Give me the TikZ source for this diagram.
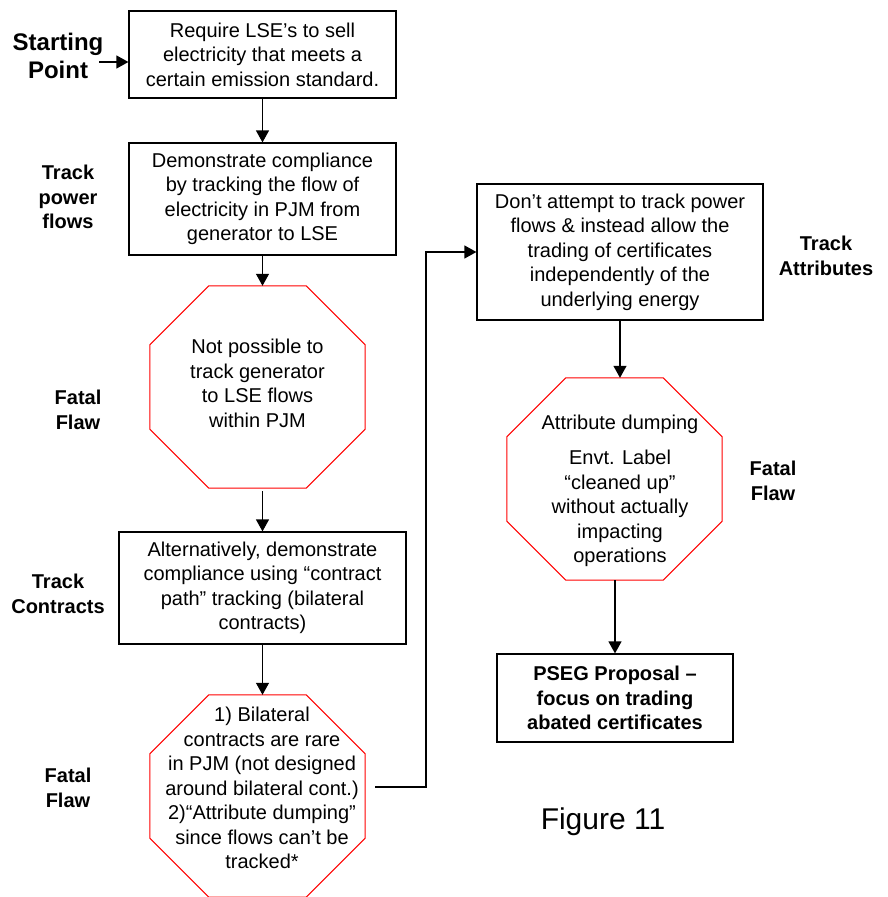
\documentclass[tikz,border=0pt]{standalone}
\usepackage{fontspec}
\setmainfont{Liberation Sans}
\usetikzlibrary{arrows.meta,calc}
\tikzset{
  x=1pt, y=-1pt,
  box/.style={draw, line width=1.2pt, align=center, inner sep=0pt, font=\fontsize{20}{24.5}\selectfont},
  boldbox/.style={box, font=\bfseries\fontsize{20}{24.5}\selectfont},
  lbl/.style={align=center, inner sep=0pt, font=\bfseries\fontsize{20}{24.5}\selectfont},
  octshape/.style={inner sep=0pt, minimum width=215pt, minimum height=202pt},
  octtext/.style={align=center, inner sep=0pt, font=\fontsize{20}{24.5}\selectfont},
  arr/.style={line width=1.2pt, -{Triangle[length=12pt,width=13pt]}},
  octline/.style={draw=red, line width=1pt},
}
\newcommand{\drawoct}[3]{%
  \draw[octline] ($(#1.north west)+(#2,0)$) -- ($(#1.north east)+(-#2,0)$)
    -- ($(#1.north east)+(0,#3)$) -- ($(#1.south east)+(0,-#3)$)
    -- ($(#1.south east)+(-#2,0)$) -- ($(#1.south west)+(#2,0)$)
    -- ($(#1.south west)+(0,-#3)$) -- ($(#1.north west)+(0,#3)$) -- cycle;}
\begin{document}
\begin{tikzpicture}
\useasboundingbox (0,0) rectangle (887,897);

% left column
\node[lbl, font=\bfseries\fontsize{24}{28}\selectfont] (sp) at (58,56) {Starting\\Point};
\node[box, minimum width=267pt, minimum height=87pt] (b1) at (262.5,54.5)
  {Require LSE’s to sell\\electricity that meets a\\certain emission standard.};
\coordinate (spend) at (99,62);
\draw[arr] (spend) -- (spend -| b1.west);

\node[lbl] (tpf) at (68,197) {Track\\power\\flows};
\node[box, minimum width=267pt, minimum height=112pt] (b2) at (262.5,199)
  {Demonstrate compliance\\by tracking the flow of\\electricity in PJM from\\generator to LSE};
\draw[arr] (b1.south) -- (b2.north);

\node[octshape] (o1) at (257.5,387) {};
\drawoct{o1}{59}{59}
\node[octtext] (o1t) at (257.5,383.5) {Not possible to\\track generator\\to LSE flows\\within PJM};
\node[lbl] (ff1) at (78,410) {Fatal\\Flaw};
\draw[arr] (b2.south) -- (b2.south |- o1.north);

\node[lbl] (tc) at (58,594) {Track\\Contracts};
\node[box, minimum width=287pt, minimum height=112pt] (b3) at (262.5,588)
  {Alternatively, demonstrate\\compliance using “contract\\path” tracking (bilateral\\contracts)};
\draw[arr] (b3.north |- o1.south) ++(0,3) coordinate (o1out) -- (b3.north);

\node[octshape] (o2) at (257.5,796) {};
\drawoct{o2}{59}{59}
\node[octtext] (o2t) at (262,788) {1) Bilateral\\contracts are rare\\in PJM (not designed\\around bilateral cont.)\\2)“Attribute dumping”\\since flows can’t be\\tracked*};
\node[lbl] (ff2) at (68,788) {Fatal\\Flaw};
\draw[arr] (b3.south) -- (b3.south |- o2.north);

% right column
\node[box, minimum width=286pt, minimum height=136pt] (b4) at (620,252)
  {Don’t attempt to track power\\flows \& instead allow the\\trading of certificates\\independently of the\\underlying energy};
\node[lbl] (ta) at (826,256) {Track\\Attributes};

\coordinate (o2out) at ($(o2.east)+(10,-9)$);
\coordinate (bend) at (426,0);
\draw[arr] (o2out) -- (o2out -| bend) |- (b4.west);

\node[octshape] (o3) at (614.5,479) {};
\drawoct{o3}{59}{59}
\node[octtext] (o3t) at (620,491) {Attribute dumping\\[11pt]Envt. Label\\“cleaned up”\\without actually\\impacting\\operations};
\node[lbl] (ff3) at (773,481) {Fatal\\Flaw};
\draw[arr] (b4.south) -- (b4.south |- o3.north);

\node[boldbox, minimum width=236pt, minimum height=88pt] (b5) at (615,698)
  {PSEG Proposal –\\focus on trading\\abated certificates};
\draw[arr] (b5.north |- o3.south) -- (b5.north);

\node[inner sep=0pt, font=\fontsize{30}{34}\selectfont] (fig) at (603,822) {Figure 11};
\end{tikzpicture}
\end{document}
